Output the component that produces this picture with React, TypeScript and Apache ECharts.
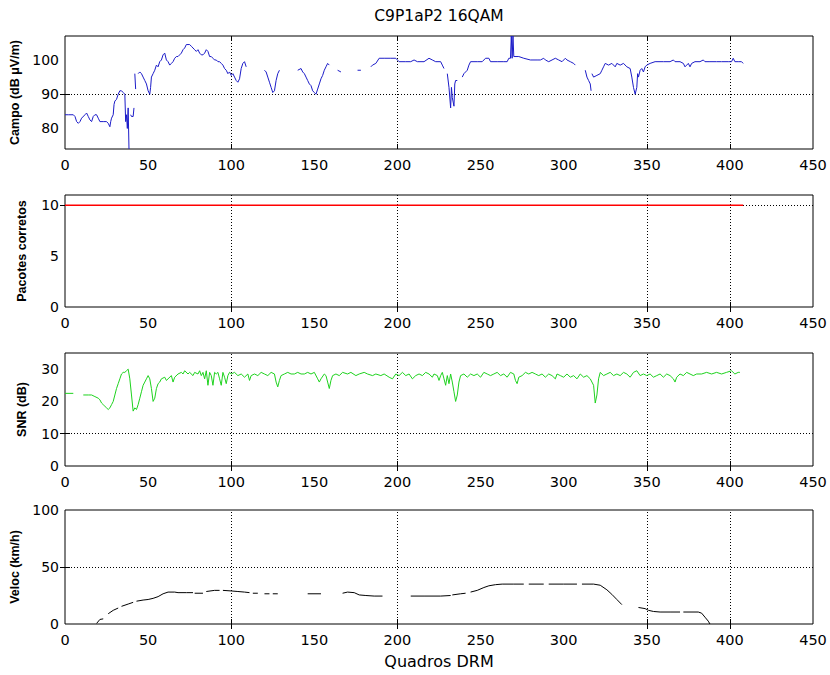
import React, { useEffect, useRef } from "react";
import * as echarts from "echarts";

const chartTitle = "C9P1aP2 16QAM";
const xAxisTitle = "Quadros DRM";
const yAxisTitles = ["Campo (dB \u03bcV/m)", "Pacotes corretos", "SNR (dB)", "Veloc (km/h)"];

const xMin = 0;
const xMax = 450;
const xStep = 50;
const xGridValues = [100, 200, 350, 400];

const yMins = [74, 0, 0, 0];
const yMaxs = [107, 11, 35, 100];
const yTickLabels = [[80, 90, 100], [0, 5, 10], [0, 10, 20, 30], [0, 50, 100]];
const yGridValues = [[90], [10], [10], [50]];

type Pt = [number, number | null];

const campo: Pt[] = [
  [0, 84], [2, 84], [5, 84], [6, 83.5], [7, 82], [8, 81.5], [9, 82], [10, 83], [12, 84], [13, 84.5],
  [14, 83.5], [15, 82.5], [16, 82], [17, 83.5], [18, 84], [19, 84], [20, 83], [21, 82], [23, 82], [25, 82],
  [26, 81.5], [27, 80.5], [27.5, 82], [28, 83], [29, 84], [29.5, 87], [30, 88], [31, 88.5], [32, 90], [33, 91],
  [34, 91], [35, 90.5], [36, 90], [36.5, 82], [37, 84], [37.5, 80], [38, 86], [38.5, 74], [39, null],
  [39.5, 84], [40, 83.5], [41, 83.5], [41.5, 86], [41.8, null], [42, 96], [42.5, 91.5], [43, null],
  [44, 96], [45, 96.5], [46, 96], [47, 95], [48, 94], [49, 93], [50, 91], [51, 90], [51.5, 92], [52, 95],
  [53, 96], [54, 97], [55, 98.5], [56, 98], [57, 99.5], [58, 100], [59, 101.5], [60, 102], [61, 100],
  [62, 99.5], [63, 98.5], [64, 99], [65, 99.5], [66, 100.5], [67, 101], [68, 101], [69, 101.5], [70, 102],
  [71, 103], [72, 103.5], [73, 104.5], [74, 104.5], [75, 104.5], [76, 104], [77, 103.5], [78, 103],
  [79, 102.5], [80, 103], [81, 102], [82, 101.5], [83, 101.5], [84, 102], [85, 103], [86, 102.5], [87, 101],
  [88, 101], [89, 100.5], [90, 100], [91, 100], [92, 99.5], [93, 99.5], [94, 99], [95, 98.5], [96, 97.5],
  [97, 97], [98, 96], [99, 96.5], [100, 95.5], [101, 96], [102, 95], [103, 94], [104, 93.5], [105, 94.5],
  [106, 97.5], [107, 99], [108, 99.5], [109, 98], [110, null],
  [120, 97], [121, 96.5], [122, 95], [123, 93.5], [124, 92], [125, 90.5], [126, 91], [127, 94], [128, 96],
  [129, 97], [130, null],
  [140, 97], [142, 97.5], [143, 96.5], [144, 96], [145, 95], [146, 94], [147, 93], [148, 92.5], [149, 91],
  [150, 90.5], [151, 90], [152, 91.5], [153, 93], [154, 94.5], [155, 95.5], [156, 97], [157, 98], [158, 99],
  [159, 98.5], [160, null], [164, 97], [166, 96.5], [167, null], [176, 97], [178, 97], [179, null],
  [184, 98], [185, 98.5], [187, 99], [189, 100.5], [192, 100.5], [196, 100.5], [199, 100.5], [200, 100],
  [201, 99.5], [205, 99.5], [208, 99.5], [210, 100], [212, 99.5], [216, 99.5], [219, 100.5], [221, 100],
  [223, 99.5], [226, 99.5], [227, 98.5], [228, 97.5], [229, null],
  [230, 96], [231, 92], [232, 86], [232.5, 92], [233, 89], [234, 86.5], [234.5, 93], [235, 94], [236, 94],
  [237, null], [239, 95], [240, 96], [242, 97], [243, 98.5], [244, 99.5], [248, 99.5], [251, 99.5],
  [253, 100.5], [255, 100.5], [256, 99.5], [260, 99.5], [264, 99.5], [266, 99.5], [267, 100.5], [268, 100.5],
  [268.5, 107], [269, 100.5], [269.5, 107], [270, 101], [273, 101], [276, 100.5], [280, 100], [284, 100],
  [286, 100], [288, 100.5], [289, 100], [291, 99.5], [293, 100], [295, 100.5], [297, 100], [299, 99.5],
  [301, 100.5], [302, 100], [304, 99.5], [306, 99], [307, 98.5], [308, null], [309, 98], [310, null],
  [313, 97], [314, 95], [315, 94], [316, 93], [316.5, 91], [316.8, null], [317, 96], [318, 95], [320, 95.5],
  [322, 96], [323, 97], [324, 98], [325, 99], [327, 98.5], [329, 99], [331, 98], [332, 99], [334, 98.5],
  [336, 99], [338, 98], [340, 97.5], [341, 95], [342, 92], [343, 90], [344, 92], [344.5, 96], [345, 95],
  [346, 97], [347, 97.5], [348, 96.5], [349, 98], [350, 98.5], [352, 99], [355, 99.5], [360, 99.5],
  [364, 99.5], [366, 100], [367, 99.5], [370, 99.5], [372, 99], [373, 98], [374, 98.5], [375, 99], [376, 98],
  [377, 99], [379, 99.5], [382, 99.5], [384, 100], [385, 99.5], [388, 99.5], [392, 99.5], [395, 99.5],
  [399, 99.5], [401, 99.5], [402, 100.5], [403, 99.5], [405, 99.5], [407, 99.5], [408, 99]
];

const pacotes: Pt[] = [[0, 10], [408, 10]];

const snr: Pt[] = [
  [0, 22.5], [3, 22.5], [5, 22.5], [6, null], [11, 22], [14, 22], [16, 22], [18, 21.5], [20, 21], [21, 20.5],
  [22, 19.5], [23, 19], [24, 18.5], [25, 18], [26, 17.5], [27, 18], [28, 19], [29, 20], [30, 22], [31, 24],
  [32, 25.5], [33, 27], [34, 28.5], [35, 29], [36, 29], [37, 29.5], [38, 30], [39, 27], [40, 22], [41, 17],
  [42, 18], [43, 17.5], [44, 19], [45, 21], [46, 23], [47, 25], [48, 26], [49, 27], [50, 28], [51, 27],
  [52, 24], [53, 20], [54, 21], [55, 24], [56, 25.5], [57, 26], [58, 27], [60, 27.5], [61, 26.5], [62, 27],
  [64, 28], [65, 26], [66, 27.5], [68, 28.5], [70, 29], [71, 28.5], [72, 29.5], [74, 28.5], [75, 29], [77, 28],
  [78, 29], [80, 28.5], [81, 29.5], [82, 28], [83, 29], [84, 27], [85, 29.5], [86, 25], [87, 29], [88, 28],
  [89, 25], [90, 29], [91, 28.5], [92, 29], [93, 27], [94, 25], [95, 29], [96, 27.5], [97, 25.5], [98, 28],
  [99, 29], [100, 28.5], [102, 29], [104, 28], [106, 28.5], [108, 27.5], [110, 28.5], [111, 26.5], [112, 28],
  [114, 28.5], [116, 28], [118, 29], [120, 28.5], [122, 28], [124, 29], [126, 28.5], [127, 26], [128, 24.5],
  [129, 26.5], [130, 28], [132, 28.5], [134, 29], [136, 28.5], [138, 28.5], [140, 29], [142, 28.5],
  [144, 28.5], [146, 29], [148, 28.5], [150, 29], [152, 27], [153, 26], [154, 27], [156, 28.5], [157, 28],
  [158, 26], [159, 24], [160, 26.5], [161, 28], [163, 28.5], [165, 28], [167, 29], [170, 28.5], [172, 29],
  [175, 28], [177, 28.5], [180, 29], [182, 28.5], [185, 28], [187, 28.5], [190, 28], [192, 28.5], [195, 27.5],
  [197, 27], [199, 28.5], [201, 28], [203, 29], [205, 28], [207, 28.5], [209, 27], [211, 28], [213, 28.5],
  [215, 28], [217, 29], [219, 28.5], [221, 27.5], [222, 28.5], [224, 28], [225, 26.5], [226, 28], [227, 29],
  [228, 27], [229, 25], [230, 28], [231, 25.5], [232, 28.5], [233, 26], [234, 23], [235, 20], [236, 22],
  [237, 26], [238, 28], [240, 28.5], [242, 27.5], [244, 28.5], [246, 28], [248, 28.5], [250, 27.5], [252, 29],
  [254, 28.5], [256, 28], [258, 28.5], [260, 29], [262, 28], [264, 28.5], [266, 27.5], [268, 29], [270, 28.5],
  [271, 26.5], [272, 25.5], [273, 27.5], [275, 28], [277, 29], [279, 28.5], [281, 29], [283, 28.5], [285, 28],
  [287, 28.5], [289, 27.5], [291, 28.5], [293, 28], [295, 27], [296, 28.5], [298, 28], [300, 27.5],
  [302, 28.5], [304, 27.5], [306, 28], [308, 27], [310, 28.5], [312, 27.5], [314, 28], [316, 27], [318, 25],
  [319, 19.5], [320, 22], [321, 27], [322, 29], [324, 28], [326, 28.5], [328, 29], [330, 28], [332, 28.5],
  [334, 28], [336, 29], [338, 28.5], [340, 27.5], [342, 29], [344, 29.5], [346, 28], [348, 28.5], [350, 28],
  [352, 28.5], [354, 27.5], [356, 28], [358, 28.5], [360, 27.5], [362, 28.5], [364, 28], [366, 27], [367, 26],
  [368, 27.5], [370, 28.5], [372, 28], [374, 29], [376, 28.5], [378, 28], [380, 28.5], [383, 28.5], [386, 29],
  [389, 28.5], [392, 29], [395, 28.5], [398, 29], [401, 29.5], [403, 28.5], [405, 29], [406, 29]
];

const veloc: Pt[] = [
  [19, 0.5], [21, 4], [23, 4.5], [24, null], [26, 9], [29, 12], [32, 14], [33, null], [34, 15.5], [38, 17.5],
  [41, 19], [42, null], [43, 20], [47, 21], [50, 21.5], [53, 22.5], [56, 24], [59, 26.5], [62, 28], [66, 28],
  [68, 27.5], [73, 27.5], [77, 27.5], [77.5, null], [78, 27], [83, 27], [84, null], [85, 28.5], [90, 29.5],
  [93, 29.5], [94, null], [95, 29.5], [100, 29], [104, 28.5], [108, 28], [111, 27.5], [112, null], [113, 27],
  [116, 27], [118, null], [120, 26.5], [123, 26.5], [124, null], [125, 26.5], [128, 26.5], [129, null],
  [146, 26.5], [154, 26.5], [160, null], [167, 27], [170, 28], [174, 27.5], [177, 25.5], [181, 25],
  [186, 24.5], [191, 24.5], [195, null], [208, 24.5], [216, 24.5], [226, 24.5], [232, 25], [232.5, null],
  [233, 25.5], [238, 26.5], [241, 27], [242, null], [244, 28], [248, 29.5], [252, 32], [255, 33.5],
  [259, 34.5], [263, 35], [270, 35], [276, 35], [277.5, null], [279, 35], [288, 35], [289.5, null],
  [291, 35], [300, 35], [308, 35], [309.5, null], [311, 35], [318, 35], [322, 34], [326, 30], [329, 26],
  [332, 21.5], [335, 17], [340, null], [345, 14.5], [349, 13.5], [351, 12], [354, 11], [358, 10.5],
  [364, 10.5], [370, 10.5], [371, null], [372, 10.5], [381, 10.5], [383, 9.5], [385, 6], [387, 2.5], [388, 0]
];

const seriesData = [campo, pacotes, snr, veloc];
const seriesColors = ["#1c1cc8", "#ff0000", "#1ed21e", "#000000"];
const seriesWidths = [1, 1.6, 1, 1];

const gridTops = [36, 195, 353, 510];
const gridHeights = [113, 112, 113, 114];

const FONT = "DejaVu Sans";

export default function App() {
  const ref = useRef<HTMLDivElement>(null);

  useEffect(() => {
    document.body.style.margin = "0";
    if (!ref.current) return;
    const chart = echarts.init(ref.current, null, { renderer: "svg" });

    const grids: any[] = [];
    const xAxes: any[] = [];
    const yAxes: any[] = [];
    const series: any[] = [];

    for (let i = 0; i < 4; i++) {
      grids.push({
        left: 65,
        right: 17,
        top: gridTops[i],
        height: gridHeights[i],
        show: true,
        borderColor: "#000",
        borderWidth: 1,
        backgroundColor: "transparent",
      });
      const tick = {
        show: true,
        inside: true,
        length: 5,
        customValues: xGridValues,
        lineStyle: { color: "#000", width: 1 },
      };
      xAxes.push({
        type: "value",
        gridIndex: i,
        position: "bottom",
        min: xMin,
        max: xMax,
        interval: xStep,
        axisLine: { show: false },
        axisTick: tick,
        splitLine: { show: false },
        axisLabel: { color: "#000", fontFamily: FONT, fontSize: 14.5, margin: 8 },
        ...(i === 3
          ? {
              name: xAxisTitle,
              nameLocation: "middle",
              nameGap: 29,
              nameTextStyle: { color: "#000", fontFamily: FONT, fontSize: 16 },
            }
          : {}),
      });
      xAxes.push({
        type: "value",
        gridIndex: i,
        position: "top",
        min: xMin,
        max: xMax,
        interval: xStep,
        axisLine: { show: false },
        axisTick: tick,
        splitLine: { show: false },
        axisLabel: { show: false },
      });
      const ytick = {
        show: true,
        inside: true,
        length: 5,
        customValues: yGridValues[i],
        lineStyle: { color: "#000", width: 1 },
      };
      yAxes.push({
        type: "value",
        gridIndex: i,
        position: "left",
        min: yMins[i],
        max: yMaxs[i],
        axisLine: { show: false },
        axisTick: ytick,
        splitLine: { show: false },
        axisLabel: {
          color: "#000",
          fontFamily: FONT,
          fontSize: 14,
          margin: 6,
          customValues: yTickLabels[i],
        },
        name: yAxisTitles[i],
        nameLocation: "middle",
        nameRotate: 90,
        nameGap: 37,
        nameTextStyle: {
          color: "#000",
          fontFamily: "Liberation Sans",
          fontSize: 12.5,
          fontWeight: "bold",
        },
      });
      yAxes.push({
        type: "value",
        gridIndex: i,
        position: "right",
        min: yMins[i],
        max: yMaxs[i],
        axisLine: { show: false },
        axisTick: ytick,
        splitLine: { show: false },
        axisLabel: { show: false },
      });

      series.push({
        type: "line",
        xAxisIndex: 2 * i,
        yAxisIndex: 2 * i,
        data: [],
        silent: true,
        z: 1,
        markLine: {
          silent: true,
          z: 1,
          symbol: ["none", "none"],
          label: { show: false },
          lineStyle: { color: "#000", type: [1, 2], width: 1 },
          emphasis: { disabled: true },
          data: [
            ...xGridValues.map((v) => ({ xAxis: v })),
            ...yGridValues[i].map((v) => ({ yAxis: v })),
          ],
        },
      });
      series.push({
        type: "line",
        xAxisIndex: 2 * i,
        yAxisIndex: 2 * i,
        data: seriesData[i].map(([x, y]) => [x, y === null ? "-" : y]),
        showSymbol: false,
        symbol: "none",
        connectNulls: false,
        silent: true,
        z: 6,
        lineStyle: { color: seriesColors[i], width: seriesWidths[i] },
      });
    }

    chart.setOption({
      animation: false,
      grid: grids,
      xAxis: xAxes,
      yAxis: yAxes,
      series,
      graphic: [
        {
          type: "text",
          x: 439,
          y: 8,
          style: {
            text: chartTitle,
            fill: "#000",
            fontFamily: FONT,
            fontSize: 15.5,
            textAlign: "center",
          },
        },
      ],
    });

    return () => chart.dispose();
  }, []);

  return <div ref={ref} style={{ width: 830, height: 675, background: "#fff" }} />;
}
